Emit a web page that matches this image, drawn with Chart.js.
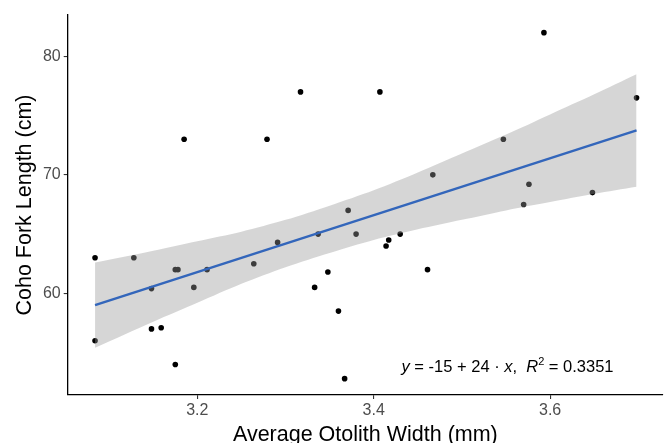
<!DOCTYPE html>
<html>
<head>
<meta charset="utf-8">
<script src="https://cdn.jsdelivr.net/npm/chart.js@4"></script>
<style>
  body { margin: 0; background: #fff; }
  canvas { display: block; }
</style>
</head>
<body>
<canvas id="chart" width="667" height="443"></canvas>
<script>
// otolith width (mm) vs fork length (cm)
var otolithWidth = [3.084, 3.128, 3.084, 3.148, 3.175, 3.178, 3.211, 3.196, 3.264, 3.148,
	3.159, 3.175, 3.291, 3.337, 3.371, 3.380, 3.417, 3.414, 3.430, 3.348,
	3.333, 3.461, 3.360, 3.367, 3.317, 3.407, 3.279, 3.467, 3.185, 3.593,
	3.698, 3.547, 3.576, 3.570, 3.648];
var forkLength = [63.0, 63.0, 56.0, 60.4, 62.0, 62.0, 62.0, 60.5, 62.5, 57.0,
	57.1, 54.0, 64.3, 65.0, 67.0, 65.0, 64.5, 64.0, 65.0, 61.8,
	60.5, 62.0, 58.5, 52.8, 77.0, 77.0, 73.0, 70.0, 73.0, 82.0,
	76.5, 73.0, 69.2, 67.5, 68.5];

// fitted line end points
var fitX = [3.084, 3.698];
var fitY = [59.0, 73.75];

// confidence band, read at these widths
var bandX = [3.084, 3.15, 3.2, 3.25, 3.3, 3.35, 3.4, 3.45, 3.5, 3.55, 3.6, 3.65, 3.698];
var bandUpper = [62.6, 63.6, 64.4, 65.2, 66.2, 67.4, 68.7, 70.2, 71.8, 73.4, 75.1, 76.8, 78.5];
var bandLower = [55.4, 57.6, 59.2, 60.8, 62.2, 63.4, 64.5, 65.4, 66.2, 67.0, 67.7, 68.4, 69.0];

var xTicks = [3.2, 3.4, 3.6];
var yTicks = [60, 70, 80];

function pairs(xs, ys) {
	var out = [];
	for (var i = 0; i < xs.length; i++) {
		out.push({x: xs[i], y: ys[i]});
	}
	return out;
}

var eqLabel = {
	id: 'eqLabel',
	afterDatasetsDraw: function (chart) {
		var ctx = chart.ctx;
		var xs = chart.scales.x;
		var ys = chart.scales.y;
		var px = xs.getPixelForValue(3.4315);
		var py = ys.getPixelForValue(53.38);
		var parts = [
			['italic', 'y'], ['normal', ' = -15 + 24 \u00b7 '], ['italic', 'x'],
			['normal', ',  '], ['italic', 'R'], ['sup', '2'], ['normal', ' = 0.3351']
		];
		ctx.save();
		ctx.fillStyle = '#000';
		ctx.textBaseline = 'alphabetic';
		ctx.textAlign = 'left';
		for (var i = 0; i < parts.length; i++) {
			var st = parts[i][0], txt = parts[i][1];
			var dy = 0;
			if (st == 'italic') {
				ctx.font = 'italic 16.5px "Liberation Sans", Arial, sans-serif';
			} else if (st == 'sup') {
				ctx.font = '11px "Liberation Sans", Arial, sans-serif';
				dy = -7;
			} else {
				ctx.font = '16.5px "Liberation Sans", Arial, sans-serif';
			}
			ctx.fillText(txt, px, py + dy);
			px += ctx.measureText(txt).width;
		}
		ctx.restore();
	}
};

var tickFont = {family: '"Liberation Sans", Arial, sans-serif', size: 16};
var titleFont = {family: '"Liberation Sans", Arial, sans-serif', size: 21.5};

new Chart(document.getElementById('chart'), {
	type: 'scatter',
	data: {
		datasets: [{
			label: 'fit',
			type: 'line',
			data: pairs(fitX, fitY),
			borderColor: '#3366bb',
			borderWidth: 2.4,
			pointRadius: 0,
			fill: false,
			order: 1
		}, {
			label: 'upper',
			type: 'line',
			data: pairs(bandX, bandUpper),
			borderWidth: 0,
			borderColor: 'rgba(0,0,0,0)',
			pointRadius: 0,
			tension: 0.3,
			backgroundColor: 'rgba(153,153,153,0.4)',
			fill: '+1',
			order: 2
		}, {
			label: 'lower',
			type: 'line',
			data: pairs(bandX, bandLower),
			borderWidth: 0,
			borderColor: 'rgba(0,0,0,0)',
			pointRadius: 0,
			tension: 0.3,
			fill: false,
			order: 2
		}, {
			label: 'fish',
			data: pairs(otolithWidth, forkLength),
			backgroundColor: '#000',
			borderWidth: 0,
			pointRadius: 2.8,
			order: 3
		}]
	},
	options: {
		responsive: false,
		animation: false,
		layout: {padding: {top: 15, right: 2, left: 0, bottom: 0}},
		plugins: {
			legend: {display: false},
			tooltip: {enabled: false}
		},
		scales: {
			x: {
				type: 'linear',
				min: 3.053,
				max: 3.728,
				afterBuildTicks: function (s) { s.ticks = xTicks.map(function (v) { return {value: v}; }); },
				afterFit: function (s) { s.height = 48; },
				grid: {drawOnChartArea: false, drawTicks: true, tickLength: 4, color: '#333', lineWidth: 1.1},
				border: {display: true, color: '#000', width: 1.3},
				ticks: {color: '#4d4d4d', font: tickFont, padding: 2, maxRotation: 0,
					callback: function (v) { return v.toFixed(1); }},
				title: {display: true, text: 'Average Otolith Width (mm)', color: '#000', font: titleFont, padding: {top: 0, bottom: -5}}
			},
			y: {
				type: 'linear',
				min: 51.42,
				max: 83.49,
				afterBuildTicks: function (s) { s.ticks = yTicks.map(function (v) { return {value: v}; }); },
				afterFit: function (s) { s.width = 67.7; },
				grid: {drawOnChartArea: false, drawTicks: true, tickLength: 4, color: '#333', lineWidth: 1.1},
				border: {display: true, color: '#000', width: 1.3},
				ticks: {color: '#4d4d4d', font: tickFont, padding: 3},
				title: {display: true, text: 'Coho Fork Length (cm)', color: '#000', font: titleFont, padding: {top: 12, bottom: 0}}
			}
		}
	},
	plugins: [eqLabel]
});
</script>
</body>
</html>
